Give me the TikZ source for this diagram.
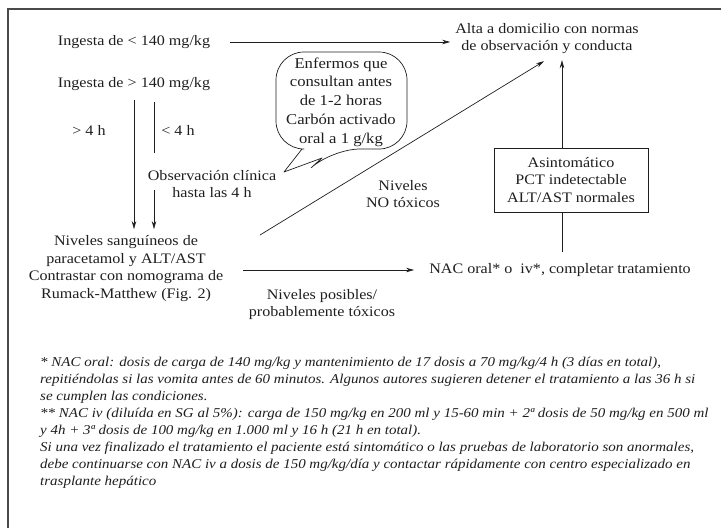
\documentclass[tikz,border=0pt]{standalone}
\usepackage{fontspec}
\setmainfont[FakeStretch=1.11]{Liberation Serif}
\usetikzlibrary{arrows.meta}

\definecolor{ink}{HTML}{1E1E1E}
\definecolor{framegray}{HTML}{4A4A4A}

\tikzset{
  txt/.style={font=\fontsize{14.5}{17.7}\selectfont, align=center, inner sep=0pt, text=ink},
  note/.style={font=\fontsize{13.5}{17}\selectfont\itshape, anchor=base west, inner sep=0pt, text=ink},
  arr/.style={draw=ink, line width=0.7pt, -{Stealth[length=8pt,width=4.5pt]}},
  plain/.style={draw=ink, line width=0.7pt},
  infobox/.style={txt, draw=ink, line width=0.7pt, minimum width=154pt, minimum height=64pt}
}

\begin{document}
\begin{tikzpicture}[x=1pt,y=-1pt]
\useasboundingbox (0,0) rectangle (721,528);

% outer frame (top and left edges)
\draw[framegray, line width=1.5pt] (8,528) -- (8,9) -- (721,9);

% text nodes
\node[txt] (low)  at (134,42) {Ingesta de < 140 mg/kg};
\node[txt] (high) at (134,84) {Ingesta de > 140 mg/kg};
\node[txt] (alta) at (547,38.5) {Alta a domicilio con normas\\de observación y conducta};
\node[txt] (gt4)  at (89,130) {> 4 h};
\node[txt] (lt4)  at (178,130) {< 4 h};
\node[txt] (obs)  at (212,184) {Observación clínica\\hasta las 4 h};
\node[txt] (levels) at (126,268.5) {Niveles sanguíneos de\\paracetamol y ALT/AST\\Contrastar con nomograma de\\Rumack-Matthew (Fig. 2)};
\node[txt, font=\fontsize{15}{18.7}\selectfont] (bubble) at (341,102) {Enfermos que\\consultan antes\\de 1-2 horas\\Carbón activado\\oral a 1 g/kg};
\node[txt] (notox) at (403,194) {Niveles\\NO tóxicos};
\node[infobox, font=\fontsize{14.5}{17.5}\selectfont] (asint) at (571,180) {Asintomático\\PCT indetectable\\ALT/AST normales};
\node[txt] (nac) at (560,270) {NAC oral* o\ \ iv*, completar tratamiento};
\node[txt] (tox) at (322,304.5) {Niveles posibles/\\probablemente tóxicos};

% speech bubble outline
\draw[plain, line join=round] (302,149) [rounded corners=28pt] -- (276,149) -- (276,52) -- (407,52) -- (407,149) -- (332,149)
  [sharp corners] -- (322,158) -- (284,172) -- cycle;

% break points of the "< 4 h" branch
\coordinate (lt4top) at (154,102);
\coordinate (lt4mid) at (154,153);
\coordinate (lt4low) at (154,190);
\coordinate (diagstart) at (260,235);

% connectors
\draw[arr, shorten <=20pt, shorten >=5pt] (low.east) -- (alta.west |- low.east);
\draw[arr, shorten <=9pt, shorten >=6pt] (high.south) -- (high.south |- levels.north);
\draw[plain] (lt4top) -- (lt4mid);
\draw[arr, shorten >=6pt] (lt4low) -- (lt4low |- levels.north);
\draw[arr, shorten <=20pt, shorten >=15pt] (levels.east |- nac.west) -- (nac.west);
\draw[arr] (diagstart) -- ([xshift=-3pt,yshift=-7pt]alta.south);
\draw[arr] ([xshift=2pt]nac.north |- asint.north) -- ([xshift=2pt,yshift=-6pt]nac.north |- alta.south);
\draw[plain, shorten <=11.5pt] ([xshift=2pt]nac.north) -- ([xshift=2pt]nac.north |- asint.south);

% notes
\node[note] (n1) at (40,366.5) {* NAC oral: dosis de carga de 140 mg/kg y mantenimiento de 17 dosis a 70 mg/kg/4 h (3 días en total),};
\node[note] (n2) at (40,383.5) {repitiéndolas si las vomita antes de 60 minutos. Algunos autores sugieren detener el tratamiento a las 36 h si};
\node[note] (n3) at (40,400.5) {se cumplen las condiciones.};
\node[note] (n4) at (40,417.5) {** NAC iv (diluída en SG al 5\%): carga de 150 mg/kg en 200 ml y 15-60 min + 2ª dosis de 50 mg/kg en 500 ml};
\node[note] (n5) at (40,434.5) {y 4h + 3ª dosis de 100 mg/kg en 1.000 ml y 16 h (21 h en total).};
\node[note] (n6) at (40,451.5) {Si una vez finalizado el tratamiento el paciente está sintomático o las pruebas de laboratorio son anormales,};
\node[note] (n7) at (40,468.5) {debe continuarse con NAC iv a dosis de 150 mg/kg/día y contactar rápidamente con centro especializado en};
\node[note] (n8) at (40,485.5) {trasplante hepático};
\end{tikzpicture}
\end{document}
